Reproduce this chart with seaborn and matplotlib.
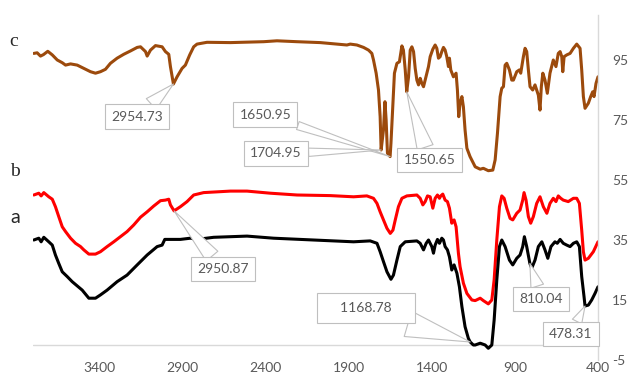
import matplotlib
matplotlib.use("Agg")
import matplotlib.pyplot as plt
import seaborn as sns

# FTIR spectra: wavenumber (cm-1) and transmittance (%)
c_wn = [3795, 3775, 3755, 3737, 3711, 3684, 3654, 3624, 3604, 3574, 3534, 3494, 3454, 3424, 3394,
        3364, 3334, 3294, 3254, 3214, 3173, 3153, 3123, 3113, 3093, 3063, 3023, 3003, 2983, 2973,
        2955, 2933, 2903, 2883, 2857, 2833, 2813, 2753, 2612, 2412, 2332, 2211, 2071, 1911, 1891,
        1851, 1811, 1781, 1761, 1751, 1735, 1721, 1711, 1705, 1691, 1682, 1675, 1667, 1651, 1646,
        1634, 1625, 1610, 1595, 1580, 1571, 1560, 1551, 1540, 1530, 1520, 1510, 1500, 1490, 1480,
        1470, 1460, 1450, 1440, 1420, 1410, 1394, 1380, 1370, 1360, 1350, 1340, 1330, 1320, 1310,
        1300, 1294, 1286, 1270, 1254, 1246, 1238, 1230, 1219, 1210, 1200, 1189, 1170, 1139, 1109,
        1090, 1060, 1033, 1019, 1005, 989, 979, 969, 959, 949, 933, 919, 909, 889, 873,
        865, 849, 839, 829, 819, 809, 793, 779, 769, 759, 749, 741, 732, 719, 705,
        689, 669, 653, 639, 628, 618, 612, 604, 588, 568, 548, 528, 508, 498, 488,
        478, 458, 444, 432, 424, 412, 400]
c_t = [97.2, 97.4, 96.3, 96.8, 97.9, 96.7, 95.0, 94.1, 93.3, 93.7, 93.3, 92.2, 91.1, 90.6, 91.1,
       91.9, 93.9, 95.6, 96.9, 98.0, 99.2, 99.4, 97.8, 96.3, 98.3, 99.8, 99.4, 97.8, 96.9, 92.8,
       87.0, 89.4, 92.2, 93.3, 96.7, 99.4, 100.3, 100.9, 100.8, 101.1, 101.4, 101.1, 100.8, 100.0, 100.3,
       100.0, 99.2, 98.3, 97.2, 95.0, 90.6, 85.0, 76.1, 65.0, 71.7, 81.1, 75.0, 63.9, 62.8, 67.2,
       80.6, 90.6, 93.9, 94.4, 99.7, 98.3, 91.7, 84.4, 89.4, 98.3, 99.4, 97.8, 92.2, 88.3, 86.7,
       88.9, 87.2, 86.1, 88.3, 92.8, 96.1, 98.6, 100.0, 98.9, 95.6, 96.1, 97.8, 99.2, 98.3, 96.1,
       92.8, 95.6, 91.7, 89.4, 90.6, 85.0, 76.1, 80.6, 82.8, 79.4, 71.7, 65.6, 62.8, 59.4, 58.6,
       58.9, 58.1, 58.3, 61.7, 70.6, 82.8, 85.6, 86.1, 93.3, 93.9, 91.7, 88.3, 88.3, 91.1, 91.7,
       90.6, 96.1, 98.9, 97.8, 91.7, 86.1, 85.0, 86.7, 85.0, 83.3, 78.3, 86.1, 90.6, 88.3, 83.9,
       90.6, 95.0, 92.8, 97.2, 97.8, 96.1, 91.1, 96.1, 96.7, 97.2, 98.9, 100.3, 98.9, 91.7, 82.8,
       78.9, 80.6, 82.8, 84.4, 82.8, 87.2, 89.4]

b_wn = [3795, 3765, 3751, 3735, 3705, 3684, 3665, 3645, 3624, 3604, 3574, 3544, 3514, 3494, 3464,
        3424, 3394, 3354, 3314, 3274, 3234, 3194, 3153, 3113, 3074, 3033, 3003, 2983, 2973, 2951,
        2943, 2913, 2873, 2853, 2833, 2773, 2612, 2512, 2372, 2211, 2011, 1871, 1791, 1751, 1730,
        1711, 1691, 1670, 1650, 1634, 1620, 1601, 1580, 1550, 1490, 1470, 1454, 1440, 1426, 1410,
        1394, 1380, 1366, 1354, 1346, 1334, 1320, 1306, 1294, 1280, 1266, 1254, 1240, 1230, 1210,
        1189, 1159, 1139, 1109, 1090, 1060, 1039, 1025, 1009, 993, 979, 965, 949, 929, 913,
        889, 869, 853, 845, 833, 819, 805, 789, 769, 749, 729, 708, 689, 669, 653,
        639, 624, 609, 579, 548, 528, 512, 498, 488, 478, 458, 428, 400]
b_t = [50.0, 50.6, 49.7, 50.8, 49.4, 48.6, 46.1, 42.8, 39.4, 37.8, 35.6, 33.9, 32.8, 31.7, 30.3,
       30.3, 31.1, 32.8, 34.4, 36.1, 37.8, 40.0, 42.6, 44.4, 46.3, 48.1, 48.3, 48.6, 46.7, 44.7,
       45.0, 46.1, 47.8, 48.9, 50.0, 50.8, 51.3, 51.3, 50.6, 50.0, 49.8, 49.4, 49.7, 48.9, 47.2,
       44.4, 41.7, 38.9, 37.2, 38.3, 41.7, 46.1, 48.9, 49.7, 50.0, 48.9, 46.7, 47.8, 49.7, 49.4,
       45.6, 48.9, 50.0, 48.9, 49.7, 50.3, 48.3, 47.8, 45.6, 40.6, 41.7, 39.4, 30.6, 26.1, 20.6,
       17.2, 15.0, 14.8, 15.6, 14.8, 13.7, 15.0, 21.7, 35.0, 46.1, 49.7, 48.9, 45.6, 42.2, 41.7,
       43.9, 45.0, 48.3, 50.8, 48.3, 42.8, 40.6, 42.8, 47.2, 49.4, 46.1, 43.9, 47.2, 48.9, 47.8,
       49.7, 48.9, 48.3, 47.8, 48.9, 48.9, 47.2, 38.3, 31.1, 28.3, 28.9, 31.1, 34.4]

a_wn = [3795, 3765, 3751, 3735, 3705, 3684, 3665, 3645, 3624, 3594, 3564, 3534, 3504, 3464, 3424,
        3394, 3354, 3294, 3234, 3173, 3113, 3053, 3023, 3007, 2973, 2913, 2853, 2813, 2713, 2512,
        2352, 2112, 1871, 1771, 1730, 1711, 1691, 1670, 1646, 1631, 1610, 1590, 1560, 1490, 1470,
        1450, 1434, 1420, 1400, 1390, 1380, 1366, 1354, 1340, 1330, 1320, 1306, 1294, 1280, 1266,
        1249, 1234, 1219, 1200, 1180, 1169, 1150, 1139, 1109, 1079, 1060, 1039, 1025, 1009, 993,
        979, 959, 933, 913, 889, 869, 853, 843, 829, 810, 799, 779, 759, 738, 719,
        702, 683, 659, 645, 628, 609, 588, 568, 548, 528, 512, 498, 484, 478, 458,
        438, 418, 400]
a_t = [35.0, 35.6, 34.4, 35.9, 34.4, 33.3, 30.0, 27.2, 24.4, 22.8, 21.1, 19.7, 18.3, 15.6, 15.6,
       16.7, 18.3, 21.1, 23.3, 26.7, 30.0, 32.8, 33.3, 35.2, 35.2, 35.2, 35.6, 35.2, 35.9, 36.3,
       35.6, 35.0, 34.4, 34.7, 33.9, 31.1, 27.8, 24.4, 21.9, 23.3, 28.3, 32.8, 34.4, 34.7, 33.9,
       31.7, 33.9, 35.0, 32.8, 30.6, 33.3, 35.2, 33.9, 35.6, 35.0, 32.8, 31.7, 29.4, 25.0, 26.7,
       23.9, 19.4, 12.8, 6.1, 2.2, 1.0, 0.0, 0.0, 0.6, 0.0, -1.1, 0.0, 8.3, 21.7, 32.8,
       35.0, 32.8, 28.3, 26.7, 28.9, 30.0, 32.8, 36.1, 32.8, 27.2, 25.6, 28.3, 32.8, 34.4, 31.7,
       28.9, 32.8, 34.4, 33.9, 35.2, 33.9, 33.3, 32.8, 33.9, 34.4, 32.8, 22.8, 16.1, 13.0, 13.3,
       15.0, 17.2, 19.4]

# callouts: label, (peak wn, peak T), (box wn, box T), wedge width
callouts = [
    ("2954.73", (2955, 87.0), (3173, 76.1), 1.05),
    ("1650.95", (1651, 62.8), (2402, 76.8), 0.6),
    ("1704.95", (1705, 65.0), (2337, 63.9), 0.6),
    ("1550.65", (1551, 84.4), (1415, 61.7), 1.2),
    ("2950.87", (2951, 44.7), (2659, 25.4), 1.1),
    ("    1168.78    ", (1169, 1.0), (1796, 12.2), 1.9),
    ("810.04", (810, 27.2), (741, 15.4), 0.95),
    ("478.31", (478, 13.0), (565, 3.6), 0.75),
]

x_ticks = [3400, 2900, 2400, 1900, 1400, 900, 400]
y_ticks = [-5, 15, 35, 55, 75, 95]

sns.set_style("white")
plt.rcParams["font.family"] = ["Lato", "DejaVu Sans"]
plt.rcParams["axes.unicode_minus"] = False

fig = plt.figure(figsize=(6.32, 3.73), dpi=100)
ax = fig.add_axes([33 / 632, 1 - 360 / 373, 565 / 632, 345 / 373])

sns.lineplot(x=c_wn, y=c_t, ax=ax, color="#9C4A0C", lw=2.2, estimator=None, sort=False, zorder=2)
sns.lineplot(x=b_wn, y=b_t, ax=ax, color="#FF0000", lw=2.2, estimator=None, sort=False, zorder=2)
sns.lineplot(x=a_wn, y=a_t, ax=ax, color="#000000", lw=2.2, estimator=None, sort=False, zorder=2)

ax.set_xlim(3800, 400)
ax.set_ylim(-5, 110)
ax.axhline(0, color="#D9D9D9", lw=1, zorder=1)

for s in ["left", "top", "bottom"]:
    ax.spines[s].set_visible(False)
ax.spines["right"].set_color("#D9D9D9")
ax.spines["right"].set_linewidth(1)

ax.set_xticks(x_ticks)
ax.set_yticks(y_ticks)
ax.yaxis.tick_right()
ax.tick_params(axis="x", length=0, pad=1.5, labelsize=10, labelcolor="#595959")
ax.tick_params(axis="y", length=0, pad=10, labelsize=10, labelcolor="#595959")
ax.set_xlabel("")
ax.set_ylabel("")

for text, peak, box, tw in callouts:
    big = "1168" in text
    pad = 0.65 if big else 0.45
    arrow = dict(arrowstyle=f"wedge,tail_width={tw},shrink_factor=0.5",
                 fc="white", ec="#BFBFBF", lw=0.8, shrinkA=0, shrinkB=0)
    if big:
        arrow["relpos"] = (0.62, 0.0)
    ann = ax.annotate(text, xy=peak, xytext=box, textcoords="data",
                      ha="center", va="center", fontsize=10, color="#595959",
                      bbox=dict(boxstyle=f"square,pad={pad}", fc="white", ec="#BFBFBF", lw=0.8),
                      arrowprops=arrow, zorder=3)
    ann.arrow_patch.set_zorder(1.5)

fig.text(14 / 632, 1 - 46 / 373, "c", family=["Liberation Serif"], fontsize=14, ha="center", va="baseline")
fig.text(14.5 / 632, 1 - 176 / 373, "b", family=["Liberation Serif"], fontsize=14, ha="center", va="baseline")
fig.text(15 / 632, 1 - 223 / 373, "a", fontsize=14, ha="center", va="baseline")

fig.savefig("out.png", dpi=100)
